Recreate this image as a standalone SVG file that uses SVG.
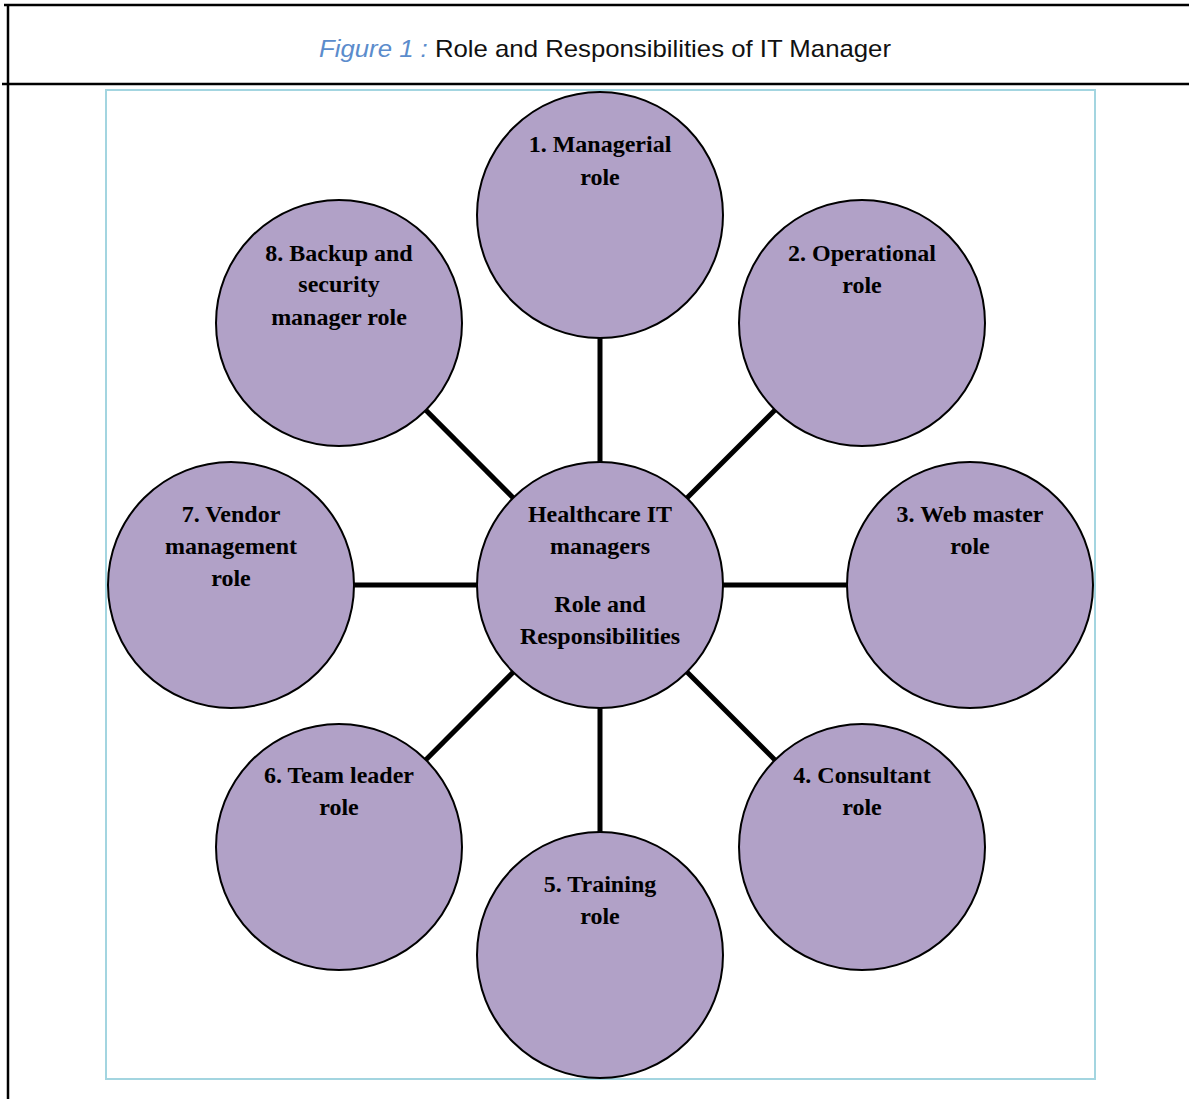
<svg xmlns="http://www.w3.org/2000/svg" width="1189" height="1099" viewBox="0 0 1189 1099">
<style>
.node circle{fill:#b1a1c7;stroke:#000;stroke-width:2}
.node text{font-family:"Liberation Serif","Times New Roman",serif;font-weight:bold;font-size:24px;fill:#000;text-anchor:middle}
.conn line{stroke:#000;stroke-width:5}
</style>
<rect width="1189" height="1099" fill="#fff"/>
<g id="frame">
<line x1="4" y1="5" x2="1189" y2="5" stroke="#000" stroke-width="2.5"/>
<line x1="8" y1="5" x2="8" y2="1099" stroke="#000" stroke-width="2.5"/>
<line x1="2" y1="84" x2="1189" y2="84" stroke="#000" stroke-width="2.5"/>
<rect x="106" y="90" width="989" height="989" fill="none" stroke="#a3d5e0" stroke-width="2"/>
</g>
<text x="605" y="57" font-family="Liberation Sans, Arial, sans-serif" font-size="24" text-anchor="middle" textLength="572" lengthAdjust="spacingAndGlyphs"><tspan fill="#5b8ccc" font-style="italic">Figure 1 : </tspan><tspan fill="#111">Role and Responsibilities of IT Manager</tspan></text>
<g id="connectors" class="conn">
<line x1="600" y1="585" x2="600" y2="215"/>
<line x1="600" y1="585" x2="862" y2="323"/>
<line x1="600" y1="585" x2="970" y2="585"/>
<line x1="600" y1="585" x2="862" y2="847"/>
<line x1="600" y1="585" x2="600" y2="955"/>
<line x1="600" y1="585" x2="339" y2="847"/>
<line x1="600" y1="585" x2="231" y2="585"/>
<line x1="600" y1="585" x2="339" y2="323"/>
</g>
<g id="center" class="node"><circle cx="600" cy="585" r="123"/>
<text x="600" y="522">Healthcare IT</text><text x="600" y="554">managers</text><text x="600" y="612">Role and</text><text x="600" y="644">Responsibilities</text></g>
<g id="n1" class="node"><circle cx="600" cy="215" r="123"/>
<text x="600" y="152">1. Managerial</text><text x="600" y="185">role</text></g>
<g id="n2" class="node"><circle cx="862" cy="323" r="123"/>
<text x="862" y="261">2. Operational</text><text x="862" y="293">role</text></g>
<g id="n3" class="node"><circle cx="970" cy="585" r="123"/>
<text x="970" y="522">3. Web master</text><text x="970" y="554">role</text></g>
<g id="n4" class="node"><circle cx="862" cy="847" r="123"/>
<text x="862" y="783">4. Consultant</text><text x="862" y="815">role</text></g>
<g id="n5" class="node"><circle cx="600" cy="955" r="123"/>
<text x="600" y="892">5. Training</text><text x="600" y="924">role</text></g>
<g id="n6" class="node"><circle cx="339" cy="847" r="123"/>
<text x="339" y="783">6. Team leader</text><text x="339" y="815">role</text></g>
<g id="n7" class="node"><circle cx="231" cy="585" r="123"/>
<text x="231" y="522">7. Vendor</text><text x="231" y="554">management</text><text x="231" y="586">role</text></g>
<g id="n8" class="node"><circle cx="339" cy="323" r="123"/>
<text x="339" y="261">8. Backup and</text><text x="339" y="292">security</text><text x="339" y="325">manager role</text></g>
</svg>
